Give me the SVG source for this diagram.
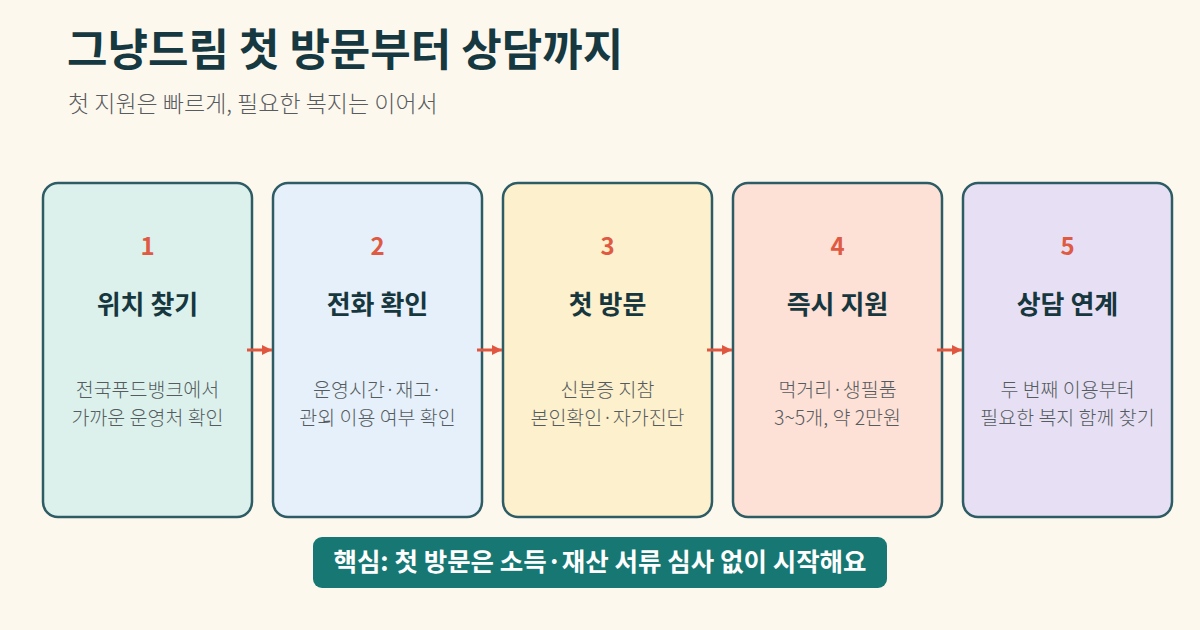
<svg xmlns="http://www.w3.org/2000/svg" width="1200" height="630" viewBox="0 0 1200 630">
<defs>
<style>
.t{font-family:"Noto Sans CJK KR","Noto Sans",sans-serif}
.box{stroke:#2d5c64;stroke-width:2.5}
.num{font-size:24px;font-weight:700;fill:#df5a43;text-anchor:middle}
.hd{font-size:26px;font-weight:700;fill:#17373f;text-anchor:middle}
.ds{font-size:19.5px;font-weight:300;fill:#555c60;text-anchor:middle}
.con{stroke:#e0563f;stroke-width:3;fill:none}
</style>
<marker id="ah" viewBox="0 0 10 10" refX="10" refY="5" markerWidth="3.4" markerHeight="3.4" orient="auto" markerUnits="strokeWidth">
<path d="M0,0 L10,5 L0,10 z" fill="#e0563f"/>
</marker>
</defs>
<rect width="1200" height="630" fill="#fdf8ee"/>
<text class="t" x="67" y="66" font-size="44" font-weight="700" fill="#163840">그냥드림 첫 방문부터 상담까지</text>
<text class="t" x="68" y="112" font-size="23" font-weight="300" fill="#585c5e">첫 지원은 빠르게, 필요한 복지는 이어서</text>

<g id="node1">
<rect class="box" x="43" y="183" width="209" height="334" rx="15" fill="#dcf1ec"/>
<text class="t num" x="147.5" y="255">1</text>
<text class="t hd" x="147.5" y="314">위치 찾기</text>
<text class="t ds" x="147.5" y="397">전국푸드뱅크에서</text>
<text class="t ds" x="147.5" y="425">가까운 운영처 확인</text>
</g>
<g id="node2">
<rect class="box" x="273" y="183" width="209" height="334" rx="15" fill="#e6f0fa"/>
<text class="t num" x="377.5" y="255">2</text>
<text class="t hd" x="377.5" y="314">전화 확인</text>
<text class="t ds" x="377.5" y="397">운영시간·재고·</text>
<text class="t ds" x="377.5" y="425">관외 이용 여부 확인</text>
</g>
<g id="node3">
<rect class="box" x="503" y="183" width="209" height="334" rx="15" fill="#fdf0cc"/>
<text class="t num" x="607.5" y="255">3</text>
<text class="t hd" x="607.5" y="314">첫 방문</text>
<text class="t ds" x="607.5" y="397">신분증 지참</text>
<text class="t ds" x="607.5" y="425">본인확인·자가진단</text>
</g>
<g id="node4">
<rect class="box" x="733" y="183" width="209" height="334" rx="15" fill="#fde0d6"/>
<text class="t num" x="837.5" y="255">4</text>
<text class="t hd" x="837.5" y="314">즉시 지원</text>
<text class="t ds" x="837.5" y="397">먹거리·생필품</text>
<text class="t ds" x="837.5" y="425">3~5개, 약 2만원</text>
</g>
<g id="node5">
<rect class="box" x="963" y="183" width="209" height="334" rx="15" fill="#e7e0f4"/>
<text class="t num" x="1067.5" y="255">5</text>
<text class="t hd" x="1067.5" y="314">상담 연계</text>
<text class="t ds" x="1067.5" y="397">두 번째 이용부터</text>
<text class="t ds" x="1067.5" y="425">필요한 복지 함께 찾기</text>
</g>

<g id="connectors">
<line class="con" x1="247" y1="350" x2="272" y2="350" marker-end="url(#ah)"/>
<line class="con" x1="477" y1="350" x2="502" y2="350" marker-end="url(#ah)"/>
<line class="con" x1="707" y1="350" x2="732" y2="350" marker-end="url(#ah)"/>
<line class="con" x1="937" y1="350" x2="962" y2="350" marker-end="url(#ah)"/>
</g>

<g id="banner">
<rect x="313" y="537" width="574" height="51" rx="9" fill="#177873"/>
<text class="t" x="600" y="571" font-size="25.5" font-weight="700" fill="#ffffff" text-anchor="middle">핵심: 첫 방문은 소득·재산 서류 심사 없이 시작해요</text>
</g>
</svg>
